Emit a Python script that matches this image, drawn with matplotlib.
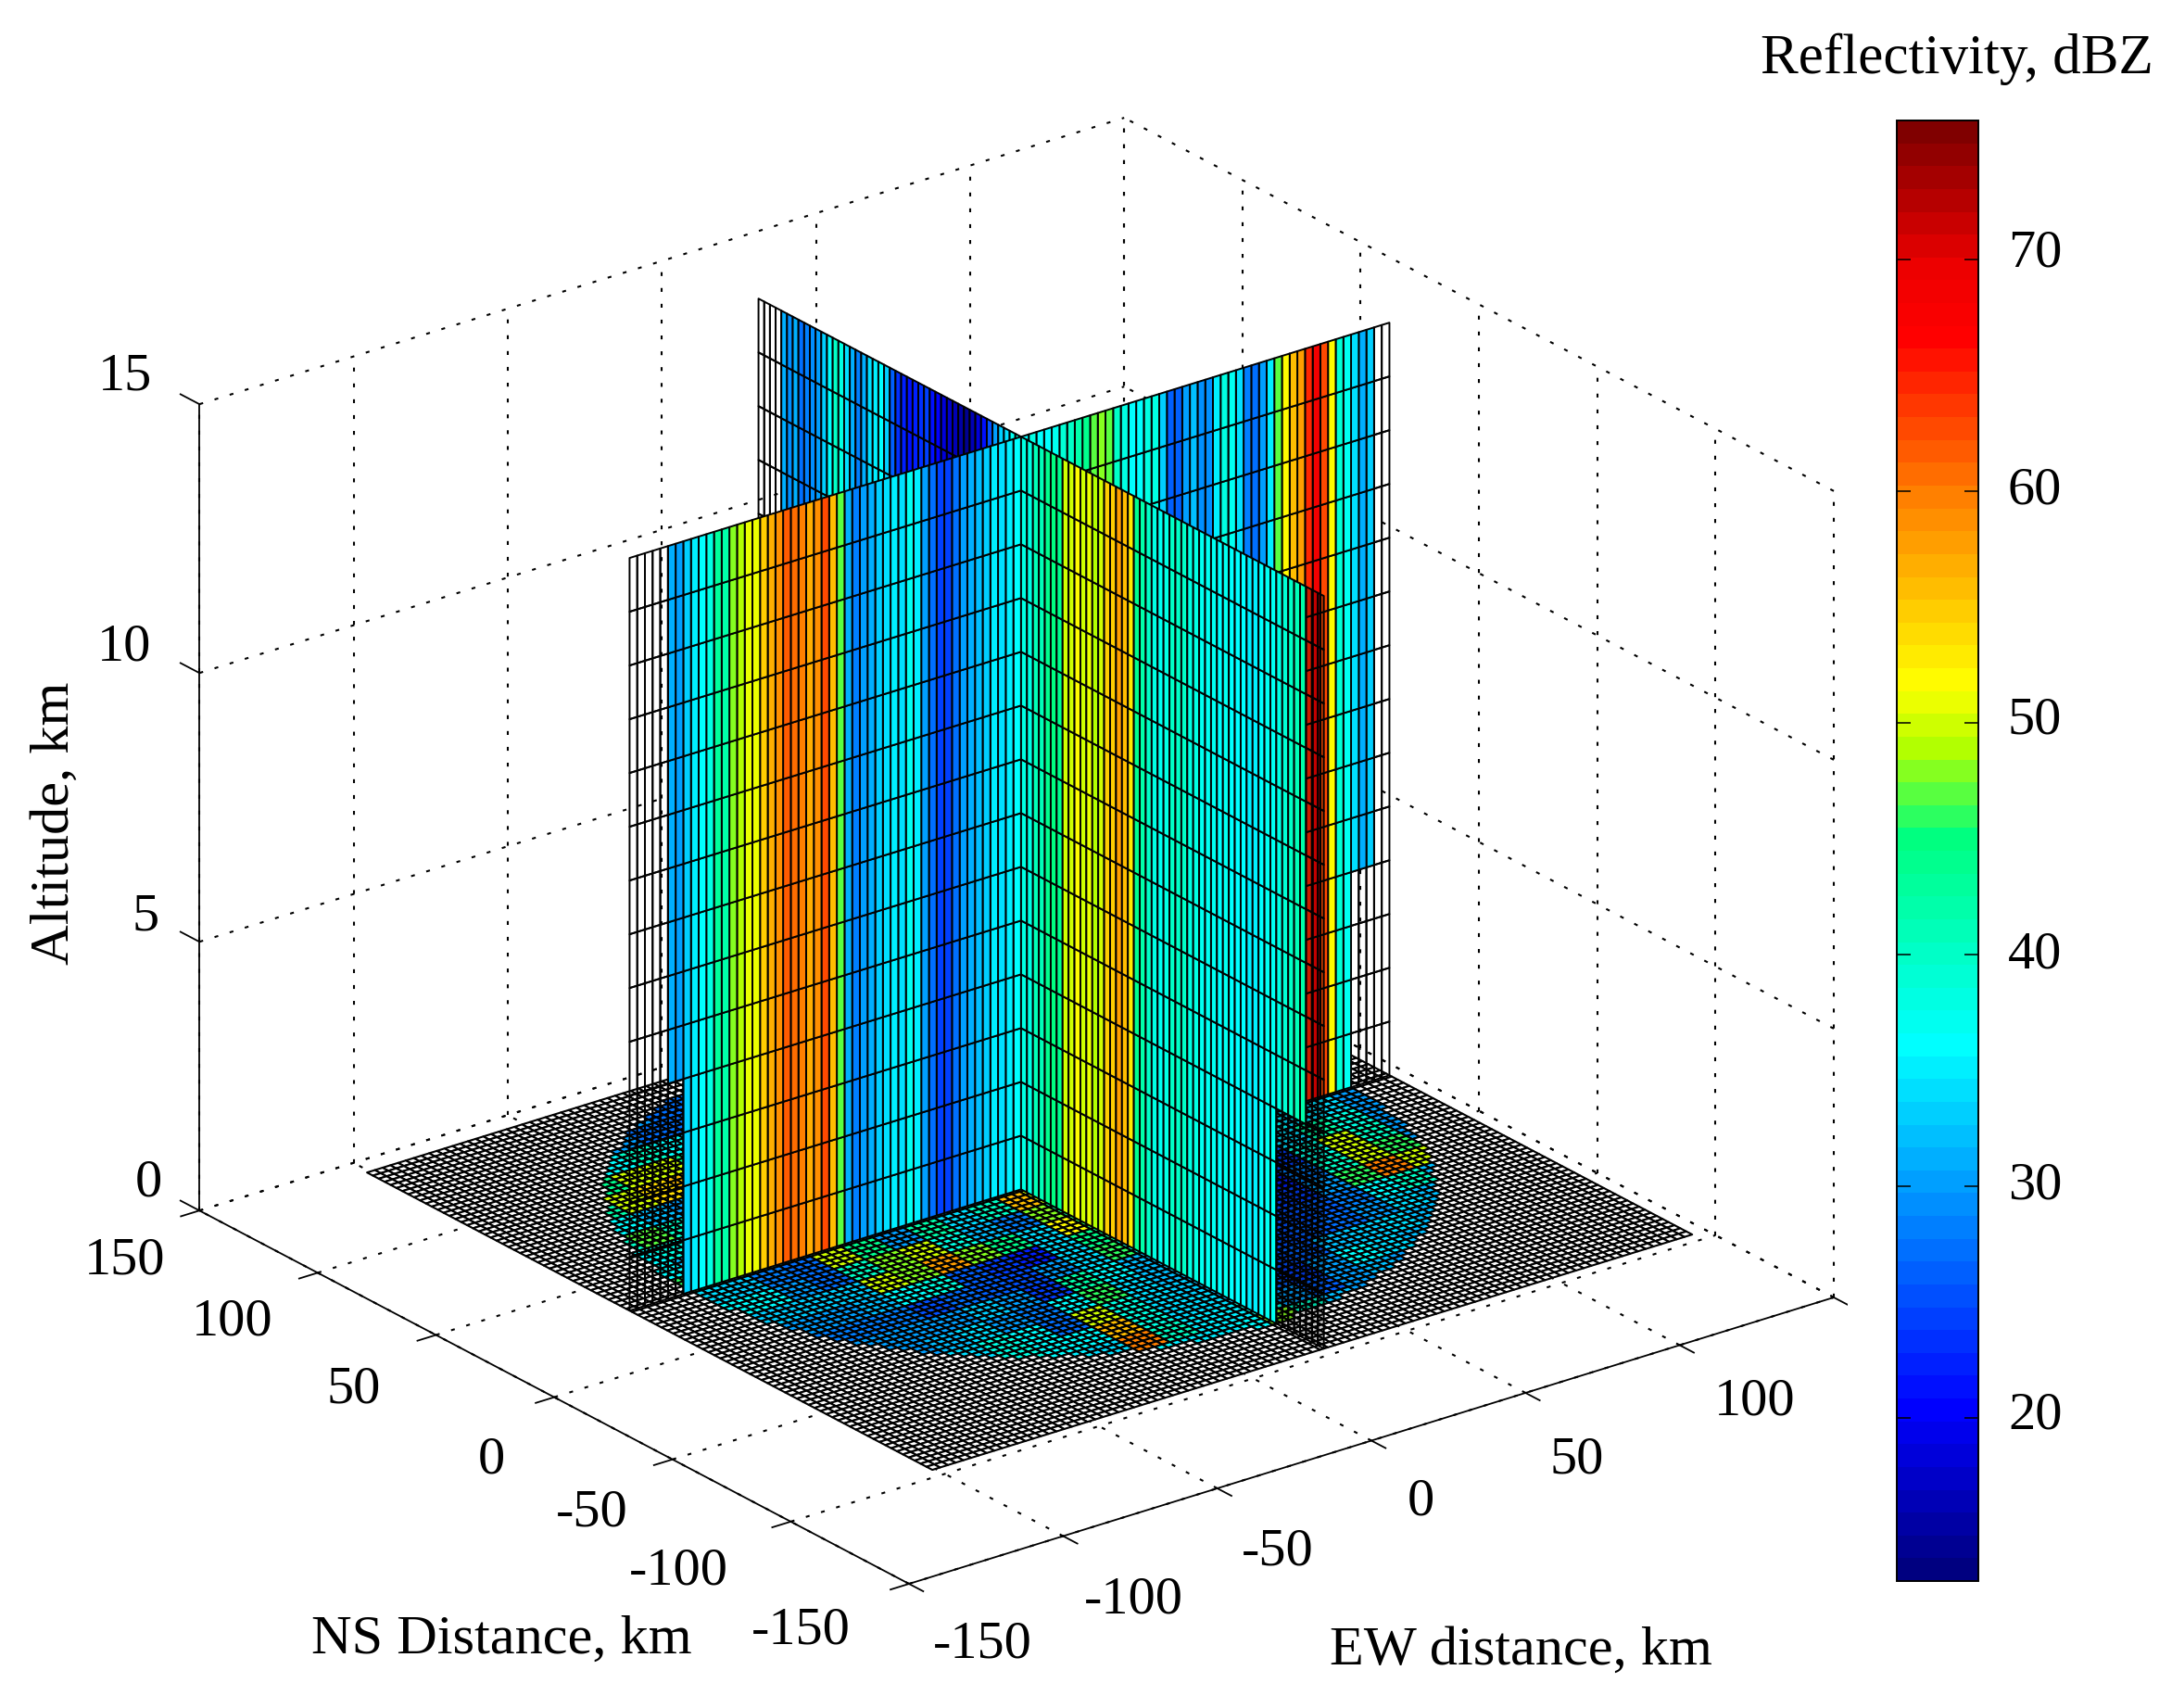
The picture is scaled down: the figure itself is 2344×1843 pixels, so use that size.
import numpy as np
import matplotlib
matplotlib.use("Agg")
import matplotlib.pyplot as plt
from matplotlib.colors import Normalize, LinearSegmentedColormap
from matplotlib.cm import ScalarMappable
from mpl_toolkits.mplot3d import proj3d
from mpl_toolkits.mplot3d.art3d import Poly3DCollection

plt.rcParams['font.family'] = ['Liberation Serif', 'DejaVu Serif']
N = np.nan

# --- data -----------------------------------------------------------------
ew_ticks = [-150, -100, -50, 0, 50, 100, 150]
ns_ticks = [-150, -100, -50, 0, 50, 100, 150]
alt_ticks = [0, 5, 10, 15]
cbar_ticks = [20, 30, 40, 50, 60, 70]
cbar_range = (12.96, 76.0)
cmap_values = [12.96, 20, 36, 45, 49, 51.7, 60, 67, 70, 76]
cmap_colors = [(0, 0, .5), (0, 0, 1), (0, 1, 1), (0, 1, .5), (.7, 1, 0), (1, 1, 0), (1, .5, 0), (1, 0, 0), (.93, 0, 0), (.5, 0, 0)]

# EW-oriented wall, left to right
ew_front = [N, N, N, N, N, 31, 30, 33, 35, 36, 38, 43, 42, 48, 49, 51, 51, 55, 57, 59, 62, 61, 60, 57, 59,
            63, 56, 47, 31, 28, 30, 31, 33, 34, 35, 34, 37, 35, 30, 27, 24, 24, 27, 30, 31, 32, 33, 35, 34, 35, 36]
ew_rear = [36, 38, 36, 36, 37, 39, 40, 42, 44, 47, 48, 47, 40, 38, 36, 36, 38, 38, 33, 26, 26, 30, 32, 29,
           29, 35, 38, 37, 34, 28, 27, 30, 35, 47, 52, 56, 58, 65, 69, 63, 52, 39, 37, 34, 31, 33, N, N]
# NS-oriented wall, left (north) to right (south)
ns_rear = [N, N, N, N, 31, 29, 31, 27, 28, 29, 30, 33, 36, 40, 38, 34, 31, 28, 31, 34, 35, 36, 33, 26, 23,
           22, 21, 22, 23, 24, 21, 20, 18, 17, 16, 15, 14, 16, 18, 21, 25, 30, 33, 34, 37, 38]
ns_front = [38, 38, 41, 41, 44, 45, 44, 50, 50, 52, 50, 51, 49, 50, 55, 55, 58, 56, 53, 44, 42, 40, 38, 37,
            38, 40, 40, 40, 38, 38, 37, 37, 37, 36, 37, 36, 36, 36, 35, 35, 36, 37, 37, 38, 39, 40, 41, 42, N, N, N]
# columns that only hold data above the lowest kilometres
ew_front_high = [5, 6]
ew_rear_high = [43, 44, 45]
ns_front_high = [43, 44, 45, 46, 47]
ns_rear_high = [4, 5]
high_from_km = 4
wall_tops_km = 14

# Horizontal scan: rows north offset +105..-105, columns east offset -105..105, 10 km apart
floor_scan = [
    [30, 30, 30, 30, 30, 30, 30, 30, 30, 30, 30, 30, 30, 30, 30, 30, 30, 30, 30, 30, 30, 30],
    [30, 30, 30, 30, 30, 30, 27, 27, 30, 30, 30, 30, 30, 30, 30, 30, 30, 30, 30, 30, 30, 30],
    [30, 30, 30, 30, 30, 27, 27, 28, 32, 32, 32, 32, 32, 32, 32, 32, 32, 32, 32, 32, 32, 32],
    [30, 30, 30, 36, 40, 36, 32, 32, 32, 32, 32, 32, 32, 32, 32, 32, 32, 32, 32, 32, 32, 32],
    [30, 30, 44, 50, 50, 44, 36, 32, 32, 32, 32, 32, 32, 32, 32, 32, 32, 32, 32, 32, 32, 32],
    [30, 42, 50, 54, 56, 46, 36, 32, 32, 32, 32, 32, 32, 32, 32, 32, 32, 32, 32, 32, 32, 32],
    [32, 36, 32, 30, 34, 34, 32, 32, 32, 32, 32, 32, 32, 32, 32, 32, 32, 32, 32, 32, 32, 32],
    [40, 47, 40, 36, 34, 34, 32, 32, 32, 32, 32, 32, 32, 32, 32, 32, 32, 32, 32, 32, 32, 32],
    [36, 38, 32, 33, 33, 32, 32, 32, 32, 32, 32, 32, 32, 32, 32, 32, 32, 32, 32, 32, 32, 32],
    [36, 32, 32, 34, 34, 32, 32, 32, 32, 32, 32, 32, 32, 32, 32, 32, 32, 32, 32, 32, 32, 32],
    [46, 34, 34, 34, 40, 34, 28, 30, 36, 40, 46, 40, 34, 34, 34, 32, 32, 32, 32, 32, 30, 30],
    [34, 33, 28, 27, 50, 44, 30, 42, 34, 40, 56, 50, 36, 34, 34, 32, 30, 30, 36, 34, 34, 30],
    [36, 36, 30, 27, 40, 48, 50, 38, 32, 28, 48, 44, 36, 34, 33, 30, 26, 26, 34, 42, 38, 30],
    [33, 33, 33, 33, 50, 48, 58, 48, 44, 34, 52, 46, 36, 34, 30, 26, 22, 24, 38, 50, 40, 30],
    [30, 30, 30, 32, 36, 38, 26, 24, 22, 34, 44, 44, 34, 30, 28, 24, 22, 28, 40, 50, 46, 30],
    [30, 28, 28, 28, 25, 27, 26, 25, 30, 34, 46, 38, 32, 28, 26, 24, 24, 30, 46, 60, 50, 30],
    [30, 30, 30, 30, 30, 33, 30, 24, 42, 36, 32, 32, 30, 27, 25, 25, 26, 28, 36, 40, 32, 30],
    [30, 30, 30, 32, 34, 30, 28, 36, 46, 34, 32, 33, 30, 27, 25, 26, 27, 30, 34, 32, 30, 30],
    [30, 30, 30, 34, 38, 36, 27, 50, 38, 34, 33, 32, 28, 25, 26, 32, 33, 34, 32, 30, 30, 30],
    [30, 30, 30, 34, 38, 36, 36, 56, 38, 34, 34, 32, 26, 24, 30, 36, 34, 32, 30, 30, 30, 30],
    [30, 30, 30, 30, 36, 35, 34, 60, 40, 35, 35, 38, 30, 26, 30, 32, 30, 30, 30, 30, 30, 30],
    [30, 30, 30, 30, 30, 30, 30, 36, 35, 35, 36, 48, 40, 32, 30, 30, 30, 30, 30, 30, 30, 30],
]
scan_step_km = 10
scan_radius_km = 107

# --- geometry (km) --------------------------------------------------------
XC, YC = 26.0, 32.0
X_MIN, X_MAX = -101.0, 145.5
Y_MIN, Y_MAX = -96.0, 143.0

W, H = 2344, 1843
fig = plt.figure(figsize=(W / 100, H / 100), dpi=100, facecolor='white')
ax = fig.add_axes([0, 0, 1, 1], projection='3d', proj_type='ortho', computed_zorder=False)
ax.set_xlim(-150, 150)
ax.set_ylim(-150, 150)
ax.set_zlim(0, 15)
ax.view_init(elev=23.8, azim=-127.5)
ax.set_box_aspect((1, 1, 0.756))
ax.set_axis_off()
ax.patch.set_alpha(0)


def to_px(x, y, z):
    ax.apply_aspect()
    a, b, _ = proj3d.proj_transform(x, y, z, ax.get_proj())
    return ax.transData.transform((a, b))


# scale and place so the box corners land where they do in the figure
p0, p1 = to_px(-150, -150, 0), to_px(150, -150, 0)
ax.set_box_aspect((1, 1, 0.756), zoom=998.0 / (p1[0] - p0[0]))
p0 = to_px(-150, -150, 0)
target = (981.0, H - 1709.0)
pos = ax.get_position(original=True)
ax.set_position([pos.x0 + (target[0] - p0[0]) / W, pos.y0 + (target[1] - p0[1]) / H, pos.width, pos.height])

norm = Normalize(*cbar_range)
cmap = LinearSegmentedColormap.from_list('radar', [(float(norm(v)), c) for v, c in zip(cmap_values, cmap_colors)], N=64)


def rgba(values):
    out = cmap(norm(np.nan_to_num(values, nan=30.0)))
    out[np.isnan(values)] = (0, 0, 0, 0)
    return out


# --- frame ----------------------------------------------------------------
dot = dict(color='black', lw=1.5, ls=(0, (2.0, 6.2)), zorder=1)
solid = dict(color='black', lw=1.3, zorder=1.5)
for t in ew_ticks:
    ax.plot([t, t], [-150, 150], [0, 0], **dot)
    ax.plot([t, t], [150, 150], [0, 15], **dot)
    ax.plot([t, t], [-150, -156], [0, 0], **solid)
for t in ns_ticks:
    ax.plot([-150, 150], [t, t], [0, 0], **dot)
    ax.plot([150, 150], [t, t], [0, 15], **dot)
    ax.plot([-150, -156], [t, t], [0, 0], **solid)
for t in alt_ticks:
    ax.plot([-150, 150], [150, 150], [t, t], **dot)
    ax.plot([150, 150], [-150, 150], [t, t], **dot)
    ax.plot([-150, -150], [150, 158], [t, t], **solid)
ax.plot([-150, 150], [-150, -150], [0, 0], **solid)
ax.plot([-150, -150], [-150, 150], [0, 0], **solid)
ax.plot([-150, -150], [150, 150], [0, 15], **solid)

# --- floor ----------------------------------------------------------------
fx = np.linspace(X_MIN, X_MAX, 99)
fy = np.linspace(Y_MIN, Y_MAX, 97)
scan = np.array(floor_scan, dtype=float)
nr, nc = scan.shape
verts, cols = [], []
for i in range(len(fx) - 1):
    for j in range(len(fy) - 1):
        u = (fx[i] + fx[i + 1]) / 2 - XC
        v = (fy[j] + fy[j + 1]) / 2 - YC
        verts.append([(fx[i], fy[j], 0), (fx[i + 1], fy[j], 0), (fx[i + 1], fy[j + 1], 0), (fx[i], fy[j + 1], 0)])
        if np.hypot(u, v) <= scan_radius_km:
            c = int(np.clip(round((u + 105) / scan_step_km), 0, nc - 1))
            r = int(np.clip(round((105 - v) / scan_step_km), 0, nr - 1))
            cols.append(cmap(norm(scan[r, c])))
        else:
            cols.append((1, 1, 1, 1))
ax.add_collection3d(Poly3DCollection(verts, facecolors=cols, edgecolors='black', linewidths=1.5, zorder=2),
                    autolim=False)


# --- walls ----------------------------------------------------------------
def wall(values, edges, along_x, fixed, zorder, high=(), veil=None):
    values = np.array(values, dtype=float)
    zs = np.arange(0, wall_tops_km + 1)
    verts, cols = [], []
    base = rgba(values)
    for k in range(len(zs) - 1):
        for i in range(len(values)):
            a, b = edges[i], edges[i + 1]
            z0, z1 = zs[k], zs[k + 1]
            if along_x:
                verts.append([(a, fixed, z0), (b, fixed, z0), (b, fixed, z1), (a, fixed, z1)])
            else:
                verts.append([(fixed, a, z0), (fixed, b, z0), (fixed, b, z1), (fixed, a, z1)])
            empty = np.isnan(values[i]) or (i in high and z0 < high_from_km)
            if empty:
                cols.append(veil if veil is not None else (0, 0, 0, 0))
            else:
                cols.append(base[i])
    ax.add_collection3d(Poly3DCollection(verts, facecolors=cols, edgecolors='black', linewidths=1.4, zorder=zorder),
                        autolim=False)


wall(ew_rear, np.linspace(XC, X_MAX, len(ew_rear) + 1), True, YC, 3, high=ew_rear_high)
wall(ns_rear, np.linspace(Y_MAX, YC, len(ns_rear) + 1), False, XC, 3, high=ns_rear_high)
wall(ew_front, np.linspace(X_MIN, XC, len(ew_front) + 1), True, YC, 4, high=ew_front_high)
wall(ns_front, np.linspace(YC, Y_MIN, len(ns_front) + 1), False, XC, 4, high=ns_front_high, veil=(0, 0, 0, 0.2))


# --- text -----------------------------------------------------------------
def label(x, y, s, **kw):
    fig.text(x * 1.495 / W, 1 - (y + 2) * 1.495 / H, s, ha='center', va='center', fontsize=kw.pop('fontsize', 42), **kw)


for t, (x, y) in zip(ew_ticks[:-1], [(709, 1185), (818, 1153), (922, 1118), (1026, 1082), (1138, 1052), (1267, 1010)]):
    label(x, y, str(t))
for t, (x, y) in zip(ns_ticks, [(578, 1175), (490, 1132), (427, 1090), (355, 1052), (255, 1001), (168, 952), (90, 908)]):
    label(x, y, str(t))
for t, (x, y) in zip(alt_ticks, [(107, 852), (105, 660), (90, 465), (90, 270)]):
    label(x, y, str(t))
label(362, 1182, 'NS Distance, km', fontsize=43.5)
label(1098, 1190, 'EW distance, km', fontsize=43.5)
label(40, 592, 'Altitude, km', rotation=90, fontsize=43.5)
label(1413, 41, 'Reflectivity, dBZ', fontsize=44)

# --- colorbar -------------------------------------------------------------
cax = fig.add_axes([2047 / W, 1 - 1706 / H, 88 / W, (1706 - 130) / H])
cb = fig.colorbar(ScalarMappable(norm=norm, cmap=cmap), cax=cax, ticks=cbar_ticks)
cb.ax.tick_params(labelright=False, direction='in', left=True, right=True, length=11, width=1.1)
cb.outline.set_linewidth(1.4)
for t, y in zip(cbar_ticks, [1022, 856, 689, 520, 354, 183]):
    label(1469, y - 2, str(t))

fig.savefig('out.png', dpi=100, facecolor='white')
